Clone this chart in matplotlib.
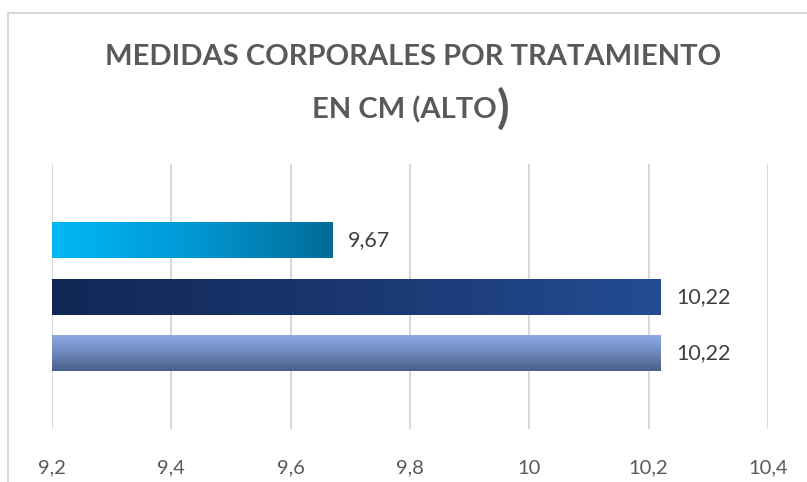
import matplotlib
matplotlib.use("Agg")
import matplotlib.pyplot as plt
import numpy as np
from matplotlib.colors import LinearSegmentedColormap
from matplotlib.lines import Line2D

values = [9.67, 10.22, 10.22]
labels = ["9,67", "10,22", "10,22"]
tick_values = [9.2, 9.4, 9.6, 9.8, 10.0, 10.2, 10.4]
tick_labels = ["9,2", "9,4", "9,6", "9,8", "10", "10,2", "10,4"]
title1 = "MEDIDAS CORPORALES POR TRATAMIENTO"
title2 = "EN CM (ALTO"

W, H = 807, 482
fig = plt.figure(figsize=(W/100, H/100), dpi=100)
fig.patch.set_facecolor("white")

# chart border (left and top visible)
fig.add_artist(Line2D([7.5/W, 7.5/W], [0, 1 - 13/H], color="#d9d9d9", lw=1.5))
fig.add_artist(Line2D([7.5/W, 1], [1 - 13/H, 1 - 13/H], color="#d9d9d9", lw=1.5))

ax = fig.add_axes([52/W, 1 - 429/H, (768-52)/W, (429-164)/H])
ax.set_xlim(9.2, 10.4)
ax.set_ylim(0, 1)
for s in ax.spines.values():
    s.set_visible(False)
ax.set_yticks([])
ax.set_xticks(tick_values)
ax.set_xticklabels(tick_labels, fontsize=14.5, color="#595959", family="Lato")
ax.tick_params(axis="x", length=0, pad=22)
ax.grid(axis="x", color="#d9d9d9", lw=1.5)
ax.set_axisbelow(True)

# bar positions in axes fraction (top to bottom)
px_top = [222, 279, 335]
bar_h_px = 36
ax_h = 429 - 164
centers = [1 - ((t + bar_h_px/2) - 164)/ax_h for t in px_top]
bh = bar_h_px/ax_h

grads = [
    (["#00B8F5", "#0098D4", "#006B96"], "h"),
    (["#112856", "#1A3770", "#244C94"], "h"),
    (["#8DAAE2", "#6E88BE", "#4A5F88"], "v"),
]

for v, c, (cols, d), lab in zip(values, centers, grads, labels):
    bars = ax.barh(c, v - 9.2, left=9.2, height=bh, color="none", edgecolor="none", zorder=2)
    patch = bars[0]
    cmap = LinearSegmentedColormap.from_list("g", cols)
    if d == "h":
        grad = np.linspace(0, 1, 256).reshape(1, -1)
    else:
        grad = np.linspace(0, 1, 256).reshape(-1, 1)
    im = ax.imshow(grad, cmap=cmap, aspect="auto",
                   extent=[9.2, v, c - bh/2, c + bh/2], origin="upper", zorder=2)
    im.set_clip_path(patch)
    ax.annotate(lab, xy=(v, c), xytext=(11, 0), textcoords="offset points",
                va="center", ha="left", fontsize=15.5, color="#404040", family="Lato")

ax.set_xlim(9.2, 10.4)
ax.set_ylim(0, 1)

fig.text(413/W, 1 - 57/H, title1, ha="center", va="center", fontsize=21,
         fontweight="bold", color="#595959", family="Lato")
fig.text(497/W, 1 - 110/H, title2, ha="right", va="center", fontsize=21,
         fontweight="bold", color="#595959", family="Lato")
fig.text(497/W, 1 - 109/H, ")", ha="left", va="center", fontsize=33,
         fontweight="bold", color="#595959", family="Lato")

fig.savefig("out.png", dpi=100)
